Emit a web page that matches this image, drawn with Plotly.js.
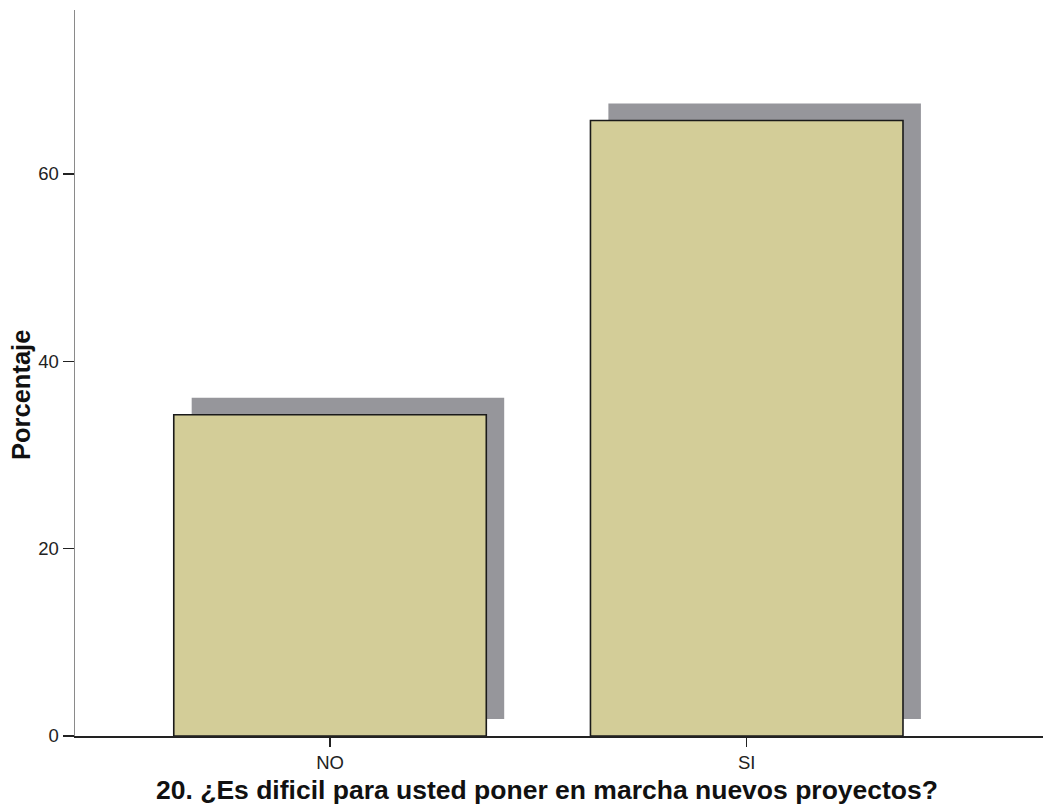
<!DOCTYPE html>
<html>
<head>
<meta charset="utf-8">
<script src="https://cdn.plot.ly/plotly-3.0.1.min.js"></script>
<style>
  html, body { margin: 0; padding: 0; background: #ffffff; }
  #chart { width: 1043px; height: 810px; }
</style>
</head>
<body>
<div id="chart"></div>
<script>
// Respuestas a la pregunta 20 (porcentaje)
const categories = ['NO', 'SI'];
const positions = [0, 1];
const percentages = [34.3, 65.7];
const yTickValues = [0, 20, 40, 60];

// Desplazamiento de la sombra en unidades de los ejes
const shadowDx = 0.043;
const shadowDy = 1.82;

const shadow = {
  type: 'bar',
  x: positions.map(p => p + shadowDx),
  y: percentages,
  base: percentages.map(() => shadowDy),
  width: 0.75,
  marker: { color: '#96969b', line: { width: 0 } },
  hoverinfo: 'skip',
  showlegend: false
};

const bars = {
  type: 'bar',
  x: positions,
  y: percentages,
  width: 0.75,
  marker: { color: '#d3cd98', line: { color: '#1a1a1a', width: 1.6 } },
  showlegend: false
};

const layout = {
  width: 1043,
  height: 810,
  margin: { l: 75, r: 0, t: 10, b: 74 },
  paper_bgcolor: '#ffffff',
  plot_bgcolor: '#ffffff',
  barmode: 'overlay',
  font: { family: 'Liberation Sans, Arial, sans-serif', color: '#222222', size: 18 },
  xaxis: {
    range: [-0.612, 1.711],
    tickvals: positions,
    ticktext: categories,
    ticks: 'outside',
    ticklen: 9,
    tickwidth: 1.5,
    tickcolor: '#222222',
    showline: true,
    linecolor: '#222222',
    linewidth: 1.5,
    showgrid: false,
    zeroline: false,
    tickfont: { size: 18.5 }
  },
  yaxis: {
    range: [0, 77.5],
    tickvals: yTickValues,
    ticks: 'outside',
    ticklen: 11,
    tickwidth: 1.5,
    tickcolor: '#222222',
    showline: true,
    linecolor: '#8a8a8a',
    linewidth: 1.5,
    showgrid: false,
    zeroline: false,
    tickfont: { size: 18.5 }
  },
  annotations: [
    {
      text: '<b>20. ¿Es dificil para usted poner en marcha nuevos proyectos?</b>',
      xref: 'paper', yref: 'paper',
      x: 0.4876, y: -0.074,
      xanchor: 'center', yanchor: 'middle',
      showarrow: false,
      font: { size: 26.5, color: '#111111' }
    },
    {
      text: '<b>Porcentaje</b>',
      xref: 'paper', yref: 'paper',
      x: 0, xshift: -54, y: 0.4697,
      xanchor: 'center', yanchor: 'middle',
      textangle: -90,
      showarrow: false,
      font: { size: 25.5, color: '#111111' }
    }
  ]
};

Plotly.newPlot('chart', [shadow, bars], layout, { displayModeBar: false, staticPlot: true });
</script>
</body>
</html>
